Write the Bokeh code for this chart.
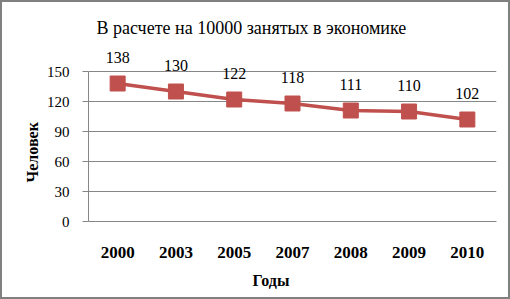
from bokeh.plotting import figure
from bokeh.models import ColumnDataSource, FactorRange, Range1d, FixedTicker, LabelSet, Title
from bokeh.embed import file_html
from bokeh.resources import INLINE

years = ["2000", "2003", "2005", "2007", "2008", "2009", "2010"]
values = [138, 130, 122, 118, 111, 110, 102]
y_ticks = [0, 30, 60, 90, 120, 150]
title_text = "В расчете на 10000 занятых в экономике"
y_title = "Человек"
x_title = "Годы"

SERIF = "Liberation Serif"
RED = "#C0504D"
GRID = "#868686"

src = ColumnDataSource(dict(x=years, y=values, lab=[str(v) for v in values]))

p = figure(width=510, height=299, x_range=FactorRange(*years, range_padding=0),
           y_range=Range1d(0, 176), output_backend="svg", toolbar_location=None,
           min_border_left=86, min_border_right=16, min_border_top=43, min_border_bottom=80)
p.styles = {"border": "2px solid #808080"}
p.outline_line_color = None
p.background_fill_color = "white"
p.border_fill_color = "white"

p.line("x", "y", source=src, line_color=RED, line_width=3.5)
p.scatter("x", "y", source=src, marker="square", size=15, fill_color=RED, line_color=RED)

p.add_layout(LabelSet(x="x", y="y", text="lab", source=src, y_offset=26,
                      text_align="center", text_baseline="middle",
                      text_font=SERIF, text_font_size="16px", text_color="black"))

# axes
p.yaxis.ticker = FixedTicker(ticks=y_ticks)
p.yaxis.bounds = (min(y_ticks), max(y_ticks))
p.yaxis.minor_tick_line_color = None
p.yaxis.major_tick_in = 0
p.yaxis.major_tick_out = 6
p.yaxis.major_tick_line_color = GRID
p.yaxis.axis_line_color = GRID
p.yaxis.major_label_standoff = 13
p.yaxis.major_label_text_font = SERIF
p.yaxis.major_label_text_font_size = "15px"
p.yaxis.major_label_text_color = "black"

p.xaxis.major_tick_line_color = None
p.xaxis.minor_tick_line_color = None
p.xaxis.axis_line_color = GRID
p.xaxis.major_label_standoff = 19
p.xaxis.major_label_text_font = SERIF
p.xaxis.major_label_text_font_size = "17px"
p.xaxis.major_label_text_font_style = "bold"
p.xaxis.major_label_text_color = "black"

p.xgrid.grid_line_color = None
p.ygrid.grid_line_color = GRID
p.ygrid.grid_line_width = 1

p.add_layout(Title(text=title_text, align="left", offset=8, standoff=15,
                   text_font=SERIF, text_font_size="18px", text_font_style="normal",
                   text_color="black"), "above")
p.add_layout(Title(text=x_title, align="left", offset=164, standoff=19,
                   text_font=SERIF, text_font_size="16px", text_font_style="bold",
                   text_color="black"), "below")
p.add_layout(Title(text=y_title, align="left", offset=39, standoff=6,
                   text_font=SERIF, text_font_size="16px", text_font_style="bold",
                   text_color="black"), "left")

open("out.html", "w").write(file_html(p, INLINE))
